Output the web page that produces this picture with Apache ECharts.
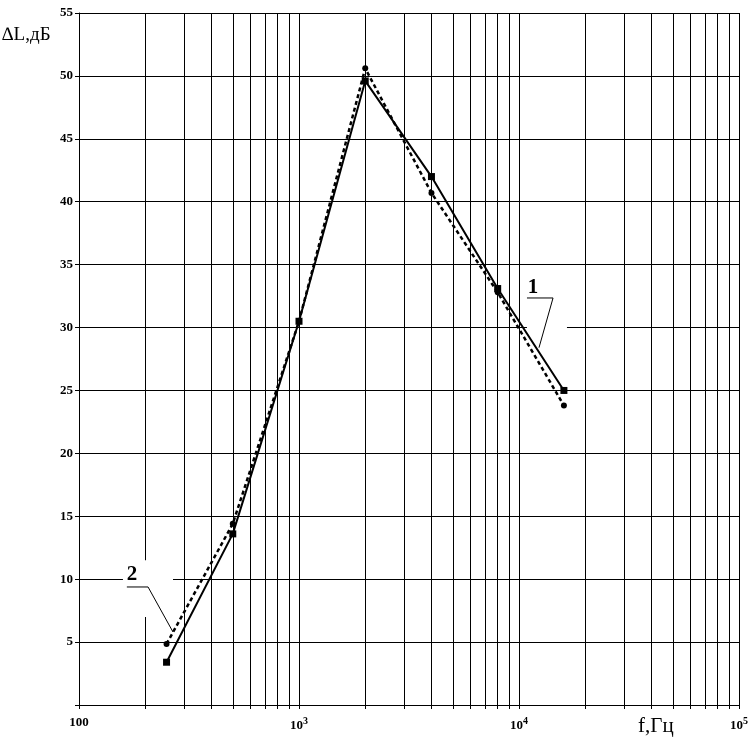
<!DOCTYPE html>
<html>
<head>
<meta charset="utf-8">
<script src="https://cdn.jsdelivr.net/npm/echarts@6/dist/echarts.min.js"></script>
<style>
html,body{margin:0;padding:0;background:#fff;}
#chart{width:751px;height:746px;}
</style>
</head>
<body>
<div id="chart"></div>
<script>
// ---- data ----
var freqs = [250, 500, 1000, 2000, 4000, 8000, 16000];
var curve1 = [3.4, 13.6, 30.5, 49.6, 42.0, 33.1, 25.0];   // solid, squares
var curve2 = [4.85, 14.4, 30.5, 50.6, 40.7, 32.8, 23.8];  // dashed, circles
var xTickValues = [100,200,300,400,500,600,700,800,900,
                   1000,2000,3000,4000,5000,6000,7000,8000,9000,
                   10000,20000,30000,40000,50000,60000,70000,80000,90000,100000];
var xLabelValues = [100, 1000, 10000, 100000];
var yMin = 0, yMax = 55, yStep = 5;

var serif = '"Liberation Serif","Times New Roman",serif';
var chart = echarts.init(document.getElementById('chart'));

function pairs(xs, ys){ return xs.map(function(x,i){ return [x, ys[i]]; }); }

var option = {
  animation: false,
  backgroundColor: '#fff',
  grid: {left: 79, right: 12, top: 13, bottom: 41, containLabel: false},
  xAxis: {
    type: 'log', logBase: 10, min: 100, max: 100000,
    axisLine: {show: true, lineStyle: {color: '#000', width: 1}},
    axisTick: {show: true, inside: false, length: 4, customValues: xTickValues, lineStyle: {color: '#000', width: 1}},
    splitLine: {show: true, lineStyle: {color: '#000', width: 1}},
    axisLabel: {
      customValues: xLabelValues,
      margin: 11,
      formatter: function(v){
        var p = Math.round(Math.log10(v));
        if (p === 2) return '{b|100}';
        return '{b|10}{s|' + p + '}';
      },
      rich: {
        b: {fontFamily: serif, fontWeight: 'bold', fontSize: 13, color: '#000'},
        s: {fontFamily: serif, fontWeight: 'bold', fontSize: 10, color: '#000', padding: [0,0,9,0]}
      }
    }
  },
  yAxis: {
    type: 'value', min: yMin, max: yMax, interval: yStep,
    axisLine: {show: true, lineStyle: {color: '#000', width: 1}},
    axisTick: {show: true, inside: false, length: 4, lineStyle: {color: '#000'}},
    splitLine: {show: true, lineStyle: {color: '#000', width: 1}},
    axisLabel: {
      margin: 6, fontFamily: serif, fontWeight: 'bold', fontSize: 13, color: '#000',
      formatter: function(v){ return v === 0 ? '' : String(v); }
    }
  },
  series: [
    {
      name: '1', type: 'line', data: pairs(freqs, curve1), z: 5,
      symbol: 'rect', symbolSize: 7, showSymbol: true,
      lineStyle: {color: '#000', width: 2, type: 'solid'},
      itemStyle: {color: '#000', borderWidth: 0}
    },
    {
      name: '2', type: 'line', data: pairs(freqs, curve2), z: 5,
      symbol: 'circle', symbolSize: 6, showSymbol: true,
      lineStyle: {color: '#000', width: 2.5, type: [4, 3]},
      itemStyle: {color: '#000', borderWidth: 0}
    }
  ]
};
chart.setOption(option);

// ---- annotations (in data coordinates) ----
var notes = [
  {text: '1', at: [11577, 33.2], under: [[10870, 32.35], [14280, 32.35]], leader: [12327, 28.4],
   box: [[10870, 30.9], [16520, 29.2]]},
  {text: '2', at: [174, 10.4], under: [[165, 9.38], [206, 9.38]], leader: [267.5, 5.8],
   box: [[158.4, 11.5], [267.5, 7.0]]}
];
function px(p){ return chart.convertToPixel({gridIndex: 0}, p); }
var g = [];
notes.forEach(function(n){
  var b0 = px(n.box[0]), b1 = px(n.box[1]);
  g.push({type: 'rect', z: 3, silent: true,
    shape: {x: b0[0], y: b0[1], width: b1[0]-b0[0], height: b1[1]-b0[1]},
    style: {fill: '#fff'}});
  var u0 = px(n.under[0]), u1 = px(n.under[1]), l = px(n.leader), t = px(n.at);
  g.push({type: 'polyline', z: 4, silent: true,
    shape: {points: [u0, u1, l]}, style: {stroke: '#000', lineWidth: 1, fill: null}});
  g.push({type: 'text', z: 4, silent: true, x: t[0], y: t[1],
    style: {text: n.text, font: 'bold 21px ' + serif, fill: '#000', align: 'center', verticalAlign: 'middle'}});
});
g.push({type: 'text', z: 4, left: 2, top: 26, style: {text: '\u2206L,дБ', font: '19px ' + serif, fill: '#000'}});
g.push({type: 'text', z: 4, left: 638, top: 716, style: {text: 'f,Гц', font: '21px ' + serif, fill: '#000'}});
chart.setOption({graphic: g});
</script>
</body>
</html>
